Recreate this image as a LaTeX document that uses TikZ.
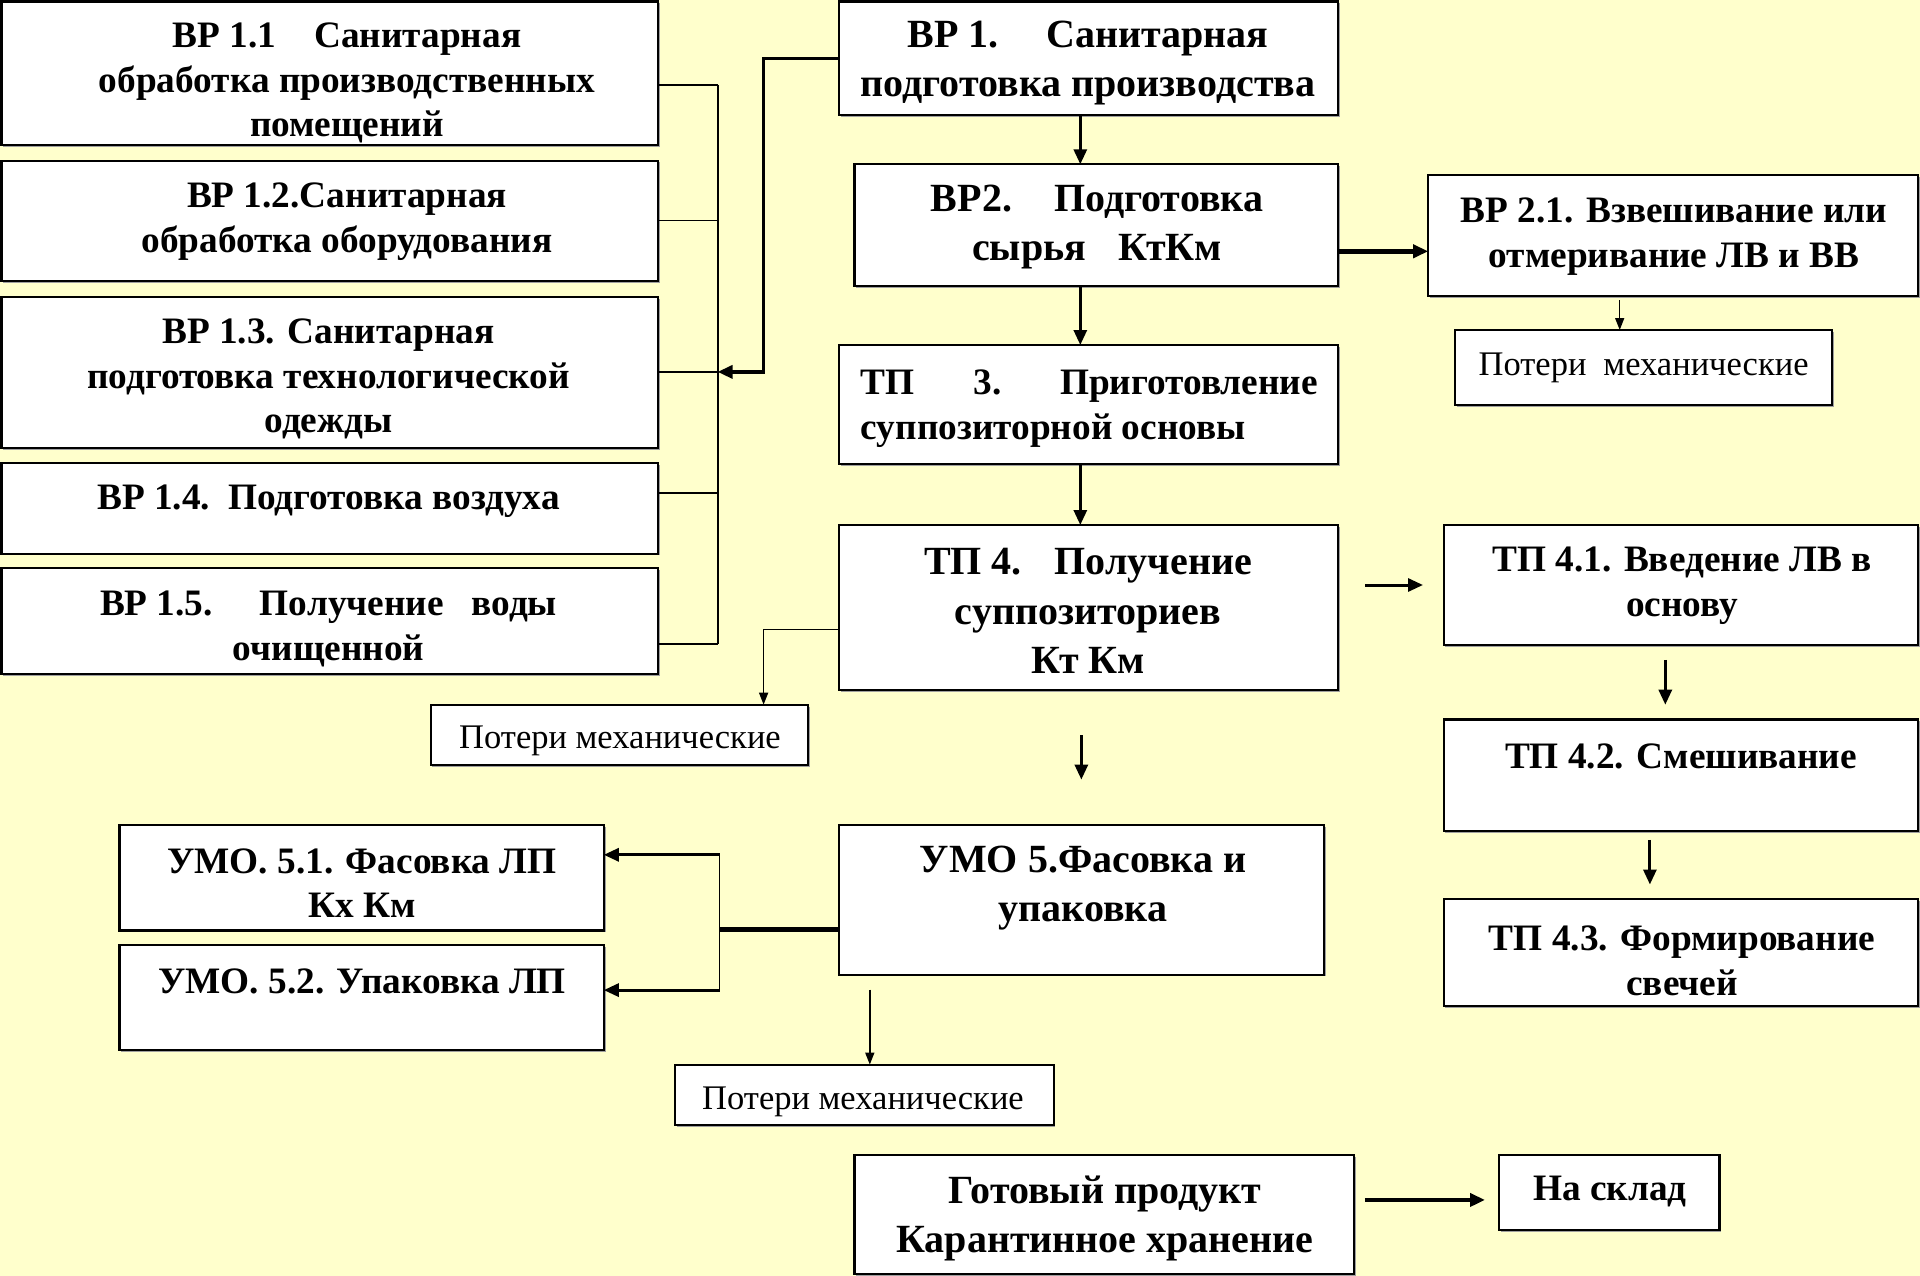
\documentclass[tikz,border=0pt]{standalone}
\usepackage{fontspec}
\setmainfont{Liberation Serif}
\usetikzlibrary{arrows.meta,shadows}
\definecolor{bg}{HTML}{FFFFCC}
\newcommand\mkbox[6][]{\node[boxst,#1,minimum width={#5-#3},minimum height={#6-#4}] (#2) at ({(#3+#5)/2},{(#4+#6)/2}) {};}
\begin{document}
\begin{tikzpicture}[x=1pt,y=-1pt,
  boxst/.style={draw=black,fill=white,line width=2.2pt,inner sep=0pt,outer sep=0pt,
    drop shadow={shadow xshift=1.8pt,shadow yshift=-1.8pt,fill=gray!75,opacity=1}},
  lossbox/.style={line width=2pt},
  bt/.style={font=\fontsize{37.3}{44.7}\selectfont\bfseries,align=center,inner sep=0pt},
  btl/.style={font=\fontsize{40}{49.6}\selectfont\bfseries,align=center,inner sep=0pt},
  lt/.style={font=\fontsize{34.5}{40}\selectfont,inner sep=0pt},
  ln/.style={line width=1.8pt},
  ar/.style={line width=3pt,-{Triangle[length=15pt,width=13pt]}},
  tar/.style={line width=1.5pt,-{Triangle[length=12pt,width=9pt]}},
  thk/.style={line width=4.5pt}]
\fill[bg] (0,0) rectangle (1920,1276);
\useasboundingbox (0,0) rectangle (1920,1276);
% boxes
\mkbox{BP11}{1.5}{1.5}{658}{145}
\mkbox{BP12}{1.5}{160.7}{658}{281.3}
\mkbox{BP13}{1.5}{296.9}{658}{447.8}
\mkbox{BP14}{1.5}{463}{658}{553.6}
\mkbox{BP15}{1.5}{568.3}{658}{674.1}
\mkbox{BP1}{839}{1.5}{1337.7}{115.2}
\mkbox{BP2}{854.4}{164.3}{1337.7}{285.7}
\mkbox{BP21}{1428.2}{175.4}{1918}{296}
\mkbox[lossbox]{P1}{1454.9}{330}{1832.3}{405.4}
\mkbox{TP3}{839}{345}{1337.7}{464.3}
\mkbox{TP4}{839}{525}{1337.7}{690.3}
\mkbox{TP41}{1443.6}{525}{1918}{645}
\mkbox{TP42}{1443.6}{719.5}{1918}{830.9}
\mkbox{TP43}{1443.6}{899.3}{1918}{1005.7}
\mkbox[lossbox]{P2}{430.5}{704.7}{808.3}{765.1}
\mkbox{UMO5}{839}{824.8}{1323.7}{974.6}
\mkbox{UMO51}{119.4}{824.8}{603.8}{930.5}
\mkbox{UMO52}{119.4}{944.9}{603.8}{1049.8}
\mkbox[lossbox]{P3}{674.8}{1064.6}{1053.6}{1124.7}
\mkbox{GOT}{854.4}{1154.7}{1353.8}{1274}
\mkbox{SKL}{1499}{1154.7}{1719.4}{1230}
% texts
\node[bt] (t11) at (347,83) {ВР 1.1\hspace{38pt}Санитарная\\обработка производственных\\помещений};
\node[bt] (t12) at (347,221.5) {ВР 1.2.Санитарная\\обработка оборудования};
\node[bt] (t13) at (328.5,379) {ВР 1.3. Санитарная\\подготовка технологической\\одежды};
\node[bt] (t14) at (328.5,501.5) {ВР 1.4.\hspace{18pt}Подготовка воздуха};
\node[bt] (t15) at (328.5,629) {\makebox[457pt][s]{ВР 1.5.\hspace{0pt plus 49fil}Получение\hspace{0pt plus 29fil}воды}\\очищенной};
\node[btl] (t1) at (1088,63) {ВР 1.\hspace{48pt}Санитарная\\подготовка производства};
\node[btl] (t2) at (1097,227) {ВР2.\hspace{42pt}Подготовка\\сырья\hspace{32pt}КтКм};
\node[bt] (t21) at (1674,236.5) {ВР 2.1. Взвешивание или\\отмеривание ЛВ и ВВ};
\node[lt] (tp1) at (1643.6,367.5) {Потери\hspace{17pt}механические};
\node[bt,align=left,anchor=west] (t3) at (860.7,409) {\makebox[457pt][s]{ТП\hfill 3.\hfill Приготовление}\\суппозиторной основы};
\node[btl] (t4) at (1088,611) {ТП 4.\hspace{33pt}Получение\\суппозиториев\\Кт Км};
\node[bt] (t41) at (1682,586) {ТП 4.1. Введение ЛВ в\\основу};
\node[bt] (t42) at (1681,756.6) {ТП 4.2. Смешивание};
\node[bt] (t43) at (1682,961) {ТП 4.3. Формирование\\свечей};
\node[btl] (t5) at (1083,888) {УМО 5.Фасовка и\\упаковка};
\node[bt] (t51) at (362,883) {УМО. 5.1. Фасовка ЛП\\Кх Км};
\node[bt] (t52) at (362,981) {УМО. 5.2. Упаковка ЛП};
\node[lt] (tp2) at (620,740.5) {Потери механические};
\node[lt] (tp3) at (863,1101.5) {Потери механические};
\node[btl] (tg) at (1105,1218.5) {Готовый продукт\\Карантинное хранение};
\node[bt] (ts) at (1610,1192) {На склад};
% bus on the left
\coordinate (s1) at (717.6,84.8);
\coordinate (s2) at (717.6,220.5);
\coordinate (s3) at (717.6,371.9);
\coordinate (s4) at (717.6,493.3);
\coordinate (s5) at (717.6,644.2);
\draw[ln] (s1) -- (s5);
\draw[ln] (BP11.east |- s1) -- (s1);
\draw[ln] (BP12.east |- s2) -- (s2);
\draw[ln] (BP13.east |- s3) -- (s3);
\draw[ln] (BP14.east |- s4) -- (s4);
\draw[ln] (BP15.east |- s5) -- (s5);
\coordinate (e1) at (763.6,371.9);
\draw[ar,line width=3.5pt] (BP1.west) -| (e1) -- (s3);
% main column
\coordinate (cx) at (1080.3,0);
\draw[ar] (BP1.south -| cx) -- (BP2.north -| cx);
\draw[ar] (BP2.south -| cx) -- (TP3.north -| cx);
\draw[ar] (TP3.south -| cx) -- (TP4.north -| cx);
\coordinate (q21) at ([yshift=-15.6pt]BP21.west);
\draw[ar,line width=5pt] (BP2.east |- q21) -- (q21);
\coordinate (px1) at (1619.7,0);
\draw[tar,shorten <=4pt] (BP21.south -| px1) -- (P1.north -| px1);
\coordinate (q2) at (763.6,629.5);
\draw[tar] (TP4.west |- q2) -- (q2) -- (q2 |- P2.north);
\draw[ar,shorten <=27.3pt,shorten >=20.6pt] (TP4.east |- TP41.west) -- (TP41.west);
\coordinate (q3) at (1665.3,0);
\draw[ar,shorten <=14.8pt,shorten >=14.8pt] (TP41.south -| q3) -- (TP42.north -| q3);
\coordinate (q4) at (1649.9,0);
\draw[ar,shorten <=9pt,shorten >=14.8pt] (TP42.south -| q4) -- (TP43.north -| q4);
\draw[ar,shorten <=44.7pt,shorten >=45.2pt] (TP4.south -| UMO5.north) -- (UMO5.north);
% packaging split
\coordinate (u1) at (719.5,854.8);
\coordinate (u2) at (719.5,990.1);
\coordinate (um) at (719.5,929.7);
\draw[thk] (UMO5.west |- um) -- (um);
\draw[ln] (u1) -- (u2);
\draw[ar] (u1) -- (UMO51.east |- u1);
\draw[ar] (u2) -- (UMO52.east |- u2);
\coordinate (q5) at (869.8,0);
\draw[tar,shorten <=15pt] (UMO5.south -| q5) -- (P3.north -| q5);
\coordinate (q6) at ([yshift=-7.6pt]SKL.west);
\draw[ar,line width=4.5pt,shorten <=11pt,shorten >=14pt] (GOT.east |- q6) -- (q6);
\end{tikzpicture}
\end{document}
